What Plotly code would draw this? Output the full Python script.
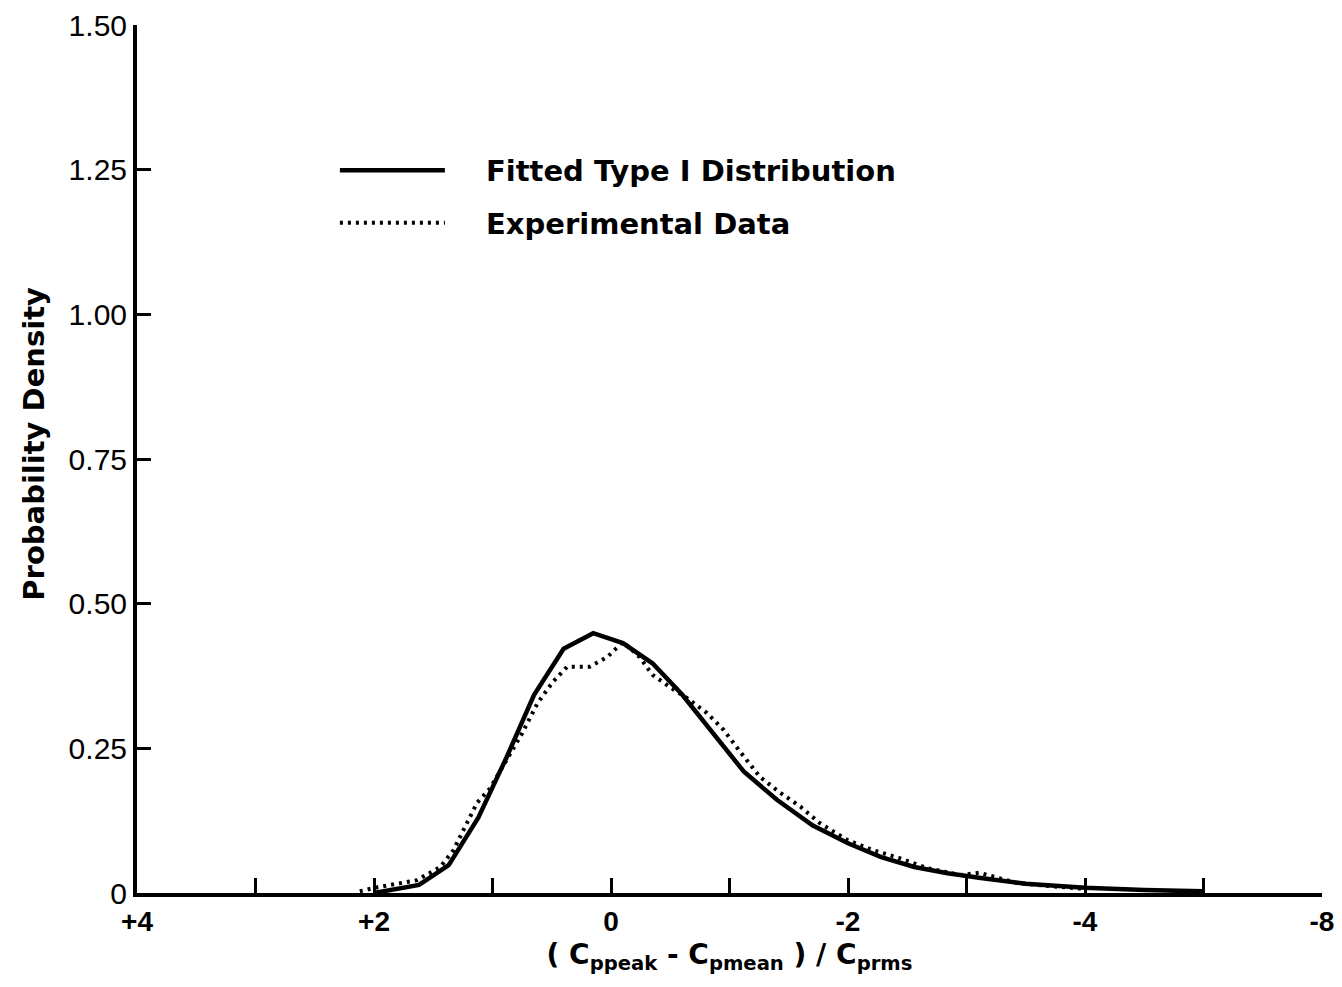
import plotly.graph_objects as go

# Fitted Type I distribution (solid)
fit_x = [2.00, 1.62, 1.37, 1.12, 0.88, 0.65, 0.40, 0.15, -0.10, -0.35, -0.60, -0.85,
         -1.12, -1.40, -1.70, -2.00, -2.28, -2.56, -2.84, -3.12, -3.50, -4.00, -4.50, -5.00]
fit_y = [0.000, 0.014, 0.048, 0.130, 0.235, 0.342, 0.422, 0.449, 0.432, 0.397, 0.343, 0.278,
         0.210, 0.161, 0.117, 0.086, 0.062, 0.045, 0.034, 0.026, 0.016, 0.009, 0.005, 0.003]

# Experimental data (dotted)
exp_x = [2.12, 1.97, 1.64, 1.44, 1.33, 1.13, 1.02, 0.88, 0.75, 0.62, 0.49, 0.37, 0.18, 0.03,
         -0.10, -0.24, -0.35, -0.51, -0.64, -0.81, -0.95, -1.09, -1.26, -1.43, -1.60, -1.76,
         -1.99, -2.21, -2.44, -2.67, -2.95, -3.11, -3.43, -3.70, -4.00]
exp_y = [0.003, 0.010, 0.022, 0.045, 0.074, 0.156, 0.181, 0.230, 0.276, 0.328, 0.365, 0.391,
         0.391, 0.408, 0.434, 0.408, 0.377, 0.354, 0.337, 0.311, 0.282, 0.244, 0.200, 0.173,
         0.149, 0.121, 0.092, 0.074, 0.060, 0.043, 0.031, 0.035, 0.017, 0.012, 0.007]

x_tickvals = [4, 3, 2, 1, 0, -1, -2, -3, -4, -5, -6]
x_ticktext = ["+4", "", "+2", "", "0", "", "-2", "", "-4", "", "-8"]
y_tickvals = [0, 0.25, 0.5, 0.75, 1.0, 1.25, 1.5]
y_ticktext = ["0", "0.25", "0.50", "0.75", "1.00", "1.25", "1.50"]

FONT = "Liberation Sans"
BOLD = "DejaVu Sans"
PAD = "\u00a0" * 3 + "\u2009"

fig = go.Figure()
fig.add_trace(go.Scatter(x=fit_x, y=fit_y, mode="lines", name=PAD + "Fitted Type I Distribution",
                         legendgroup="a",
                         line=dict(color="black", width=4.5)))
fig.add_trace(go.Scatter(x=exp_x, y=exp_y, mode="lines", name=PAD + "Experimental Data",
                         legendgroup="b",
                         line=dict(color="black", width=4, dash="3px,5px")))

fig.update_layout(
    width=1342, height=987,
    margin=dict(l=137, r=20, t=25, b=94),
    paper_bgcolor="white", plot_bgcolor="white",
    font=dict(family=FONT, color="black"),
    showlegend=True,
    legend=dict(x=0.167, y=0.862, xanchor="left", yanchor="top",
                itemwidth=105, tracegroupgap=12,
                font=dict(family=BOLD, size=29, color="black", weight="bold"),
                bgcolor="rgba(0,0,0,0)"),
    xaxis=dict(range=[4, -6], showgrid=False, zeroline=False, automargin=False,
               showline=True, linecolor="black", linewidth=4,
               ticks="inside", ticklen=15, tickwidth=3, tickcolor="black",
               tickmode="array", tickvals=x_tickvals, ticktext=x_ticktext,
               tickfont=dict(family=FONT, size=28, weight="bold"),
               title=dict(text="( C<sub>ppeak</sub> - C<sub>pmean</sub> ) / C<sub>prms</sub>",
                          font=dict(family=BOLD, size=28, weight="bold"), standoff=10)),
    yaxis=dict(range=[0, 1.5], showgrid=False, zeroline=False, automargin=False,
               showline=True, linecolor="black", linewidth=4,
               ticks="inside", ticklen=14, tickwidth=3, tickcolor="black",
               tickmode="array", tickvals=y_tickvals, ticktext=y_ticktext,
               tickfont=dict(family=FONT, size=30),
               title=dict(text="\u200b\u00a0\u00a0\u00a0Probability Density",
                          font=dict(family=BOLD, size=29, weight="bold"), standoff=16)),
)

fig.write_html("out.html")
